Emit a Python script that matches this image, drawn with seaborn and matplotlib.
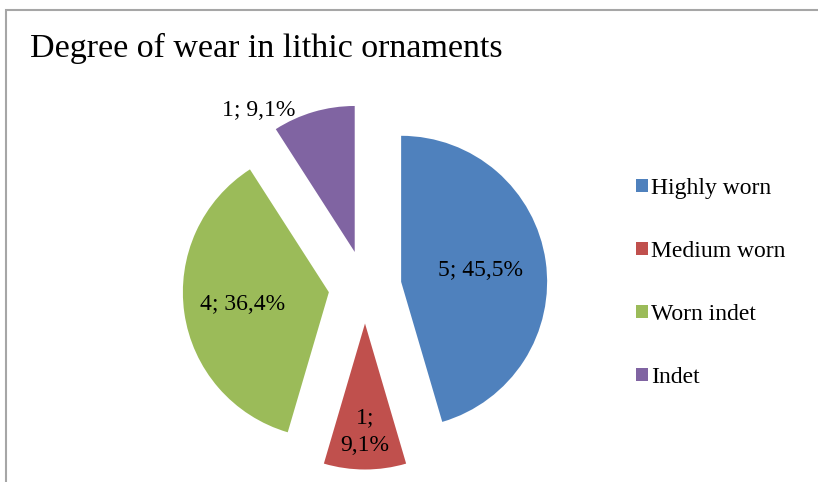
import numpy as np
import seaborn as sns
import matplotlib.pyplot as plt
from matplotlib.patches import Rectangle

categories = ['Highly worn', 'Medium worn', 'Worn indet', 'Indet']
counts = [5, 1, 4, 1]
pct_labels = ['5; 45,5%', '1;\n9,1%', '4; 36,4%', '1; 9,1%']
colors = ['#4F81BD', '#C0504D', '#9BBB59', '#8064A2']

sns.set_theme(style='white')
plt.rcParams['font.family'] = ['Liberation Serif', 'DejaVu Serif']
plt.rcParams['text.color'] = 'black'

W, H = 818, 482
fig = plt.figure(figsize=(W / 100, H / 100), dpi=100)

# pie centre and radius in pixels
cx, cy, r = 365, 287, 146
ax = fig.add_axes([0, 0, 1, 1])

expl = 0.25
wedges, _ = ax.pie(counts, colors=colors, startangle=90, counterclock=False,
                   explode=[expl] * len(counts), radius=1,
                   wedgeprops=dict(linewidth=0))
ax.set_aspect('auto')
ax.set_xlim(-cx / r, (W - cx) / r)
ax.set_ylim(-(H - cy) / r, cy / r)
ax.axis('off')

# data labels: distance from wedge apex along mid angle
dists = [0.55, 0.74, 0.60, None]
for w, lab, d in zip(wedges, pct_labels, dists):
    mid = np.deg2rad((w.theta1 + w.theta2) / 2)
    if d is None:
        x, y = 1.41 * np.cos(np.deg2rad(121)), 1.41 * np.sin(np.deg2rad(121))
    else:
        x = (expl + d) * np.cos(mid)
        y = (expl + d) * np.sin(mid)
    ax.text(x, y, lab, ha='center', va='center', fontsize=17,
            color='black', linespacing=1.45)

fig.text(30 / W, 1 - 48 / H, 'Degree of wear in lithic ornaments',
         fontsize=24.5, ha='left', va='center', color='black')

leg = ax.legend(wedges, categories, loc='upper left',
                bbox_to_anchor=(624 / W, 1 - 166 / H), frameon=False,
                fontsize=17, handlelength=0.5, handleheight=0.5,
                handletextpad=0.15, labelspacing=1.78, borderpad=0)

# chart area border
fig.patches.append(Rectangle((6 / W, -0.1), 1.2, 1 - 10 / H + 0.1,
                             transform=fig.transFigure, fill=False,
                             edgecolor='#A6A6A6', linewidth=1.5))

fig.savefig('out.png', dpi=100, facecolor='white')
